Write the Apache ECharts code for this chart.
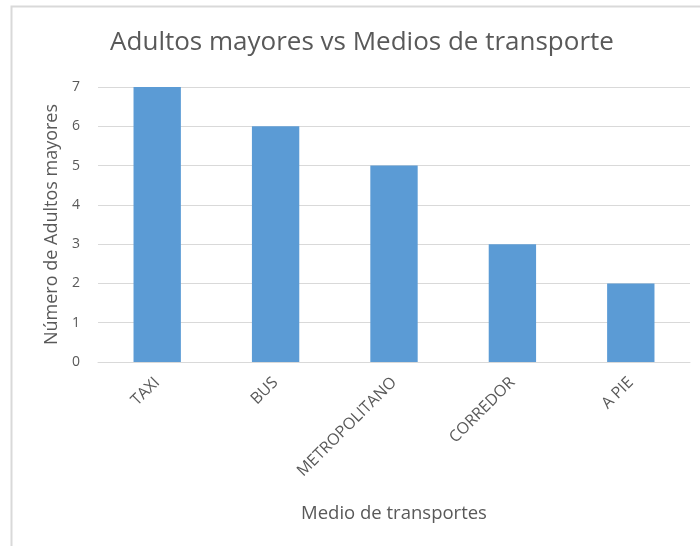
<!DOCTYPE html>
<html>
<head>
<meta charset="utf-8">
<script src="https://cdn.jsdelivr.net/npm/echarts@6/dist/echarts.min.js"></script>
<style>
  html, body { margin: 0; padding: 0; background: #fff; }
  #grafiek { width: 700px; height: 546px; }
</style>
</head>
<body>
<div id="grafiek"></div>
<script>
// datos del grafico
let medios = ['TAXI', 'BUS', 'METROPOLITANO', 'CORREDOR', 'A PIE'];
let adultos = [7, 6, 5, 3, 2];

function toonGrafiek() {
    let grafiek = echarts.init(document.getElementById('grafiek'));
    let gris = '#595959';
    let option = {
        backgroundColor: '#ffffff',
        animation: false,
        title: {
            text: 'Adultos mayores vs Medios de transporte',
            left: 357,
            textAlign: 'center',
            top: 25,
            textStyle: {
                fontFamily: 'Open Sans',
                fontSize: 26,
                fontWeight: 'normal',
                color: gris
            }
        },
        grid: {
            left: 98,
            right: 10,
            top: 87,
            bottom: 184
        },
        xAxis: {
            type: 'category',
            data: medios,
            name: 'Medio de transportes',
            nameLocation: 'middle',
            nameGap: 142,
            nameTextStyle: { color: gris, fontSize: 18.5, fontFamily: 'Open Sans' },
            axisLine: { lineStyle: { color: '#d9d9d9' } },
            axisTick: { show: false },
            axisLabel: {
                rotate: 45,
                color: gris,
                fontSize: 16,
                fontFamily: 'Open Sans',
                margin: 18
            }
        },
        yAxis: {
            type: 'value',
            min: 0,
            max: 7,
            interval: 1,
            name: 'Número de Adultos mayores',
            nameLocation: 'middle',
            nameGap: 31,
            nameTextStyle: { color: gris, fontSize: 18, fontFamily: 'Open Sans' },
            axisLine: { show: false },
            axisTick: { show: false },
            axisLabel: { color: gris, fontSize: 14, fontFamily: 'Open Sans', margin: 18 },
            splitLine: { lineStyle: { color: '#d9d9d9' } }
        },
        series: [
            {
                type: 'bar',
                data: adultos,
                barWidth: '40%',
                itemStyle: { color: '#5b9bd5' }
            }
        ],
        graphic: [
            {
                type: 'polyline',
                shape: { points: [[11.5, 546], [11.5, 6.5], [700, 6.5]] },
                style: { stroke: '#d9d9d9', lineWidth: 2, fill: null }
            }
        ]
    };
    grafiek.setOption(option);
}

window.onload = function () {
    toonGrafiek();
};
</script>
</body>
</html>
